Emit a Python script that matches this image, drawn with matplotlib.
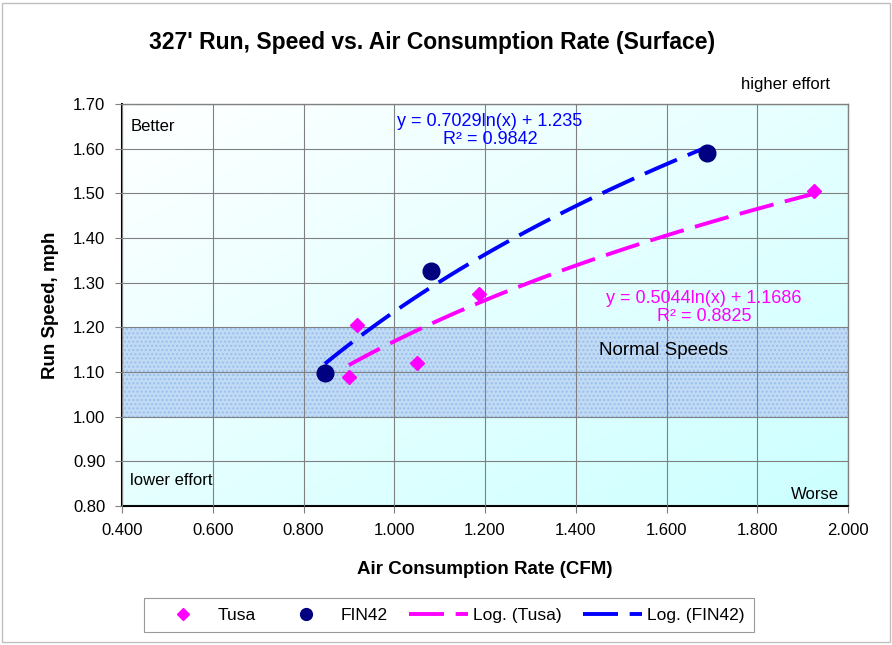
import numpy as np
import matplotlib.pyplot as plt
from matplotlib.patches import Rectangle
from matplotlib.lines import Line2D

plt.rcParams['font.family'] = ['Liberation Sans', 'DejaVu Sans']

# Data
tusa_x = [0.900, 0.918, 1.050, 1.187, 1.925]
tusa_y = [1.089, 1.205, 1.120, 1.275, 1.505]
fin_x = [0.847, 1.081, 1.689]
fin_y = [1.098, 1.326, 1.590]

# Logarithmic trendline coefficients (as shown on chart)
tusa_a, tusa_b, tusa_r2 = 0.5044, 1.1686, 0.8825
fin_a, fin_b, fin_r2 = 0.7029, 1.235, 0.9842

x_ticks = [0.4, 0.6, 0.8, 1.0, 1.2, 1.4, 1.6, 1.8, 2.0]
y_ticks = [0.8, 0.9, 1.0, 1.1, 1.2, 1.3, 1.4, 1.5, 1.6, 1.7]

fig = plt.figure(figsize=(8.92, 6.45), dpi=100)
ax = fig.add_axes([0.1368, 0.2155, 0.8139, 0.6233])

# gradient background: white top-left -> cyan bottom-right
n = 200
gx, gy = np.meshgrid(np.linspace(0, 1, n), np.linspace(0, 1, n))
t = np.clip((gx + gy) / 2, 0, 1)
img = np.zeros((n, n, 3))
img[..., 0] = 1 - 0.2 * t
img[..., 1] = 1.0
img[..., 2] = 1.0
ax.imshow(img, extent=[0.4, 2.0, 0.8, 1.7], aspect='auto', origin='upper', zorder=0)

# normal speeds band
ax.add_patch(Rectangle((0.4, 1.0), 1.6, 0.2, facecolor='#c2dbf5', edgecolor='#98bfee',
                       hatch='....', lw=0, zorder=1))

ax.set_xlim(0.4, 2.0)
ax.set_ylim(0.8, 1.7)
ax.set_xticks(x_ticks)
ax.set_yticks(y_ticks)
ax.set_xticklabels(['%.3f' % v for v in x_ticks], fontsize=12)
ax.set_yticklabels(['%.2f' % v for v in y_ticks], fontsize=12)
ax.grid(True, color='#808080', lw=0.8, zorder=2)
ax.set_axisbelow(False)
ax.tick_params(direction='out', length=5, color='#808080', pad=7)
for s in ['left', 'bottom']:
    ax.spines[s].set_color('black')
    ax.spines[s].set_linewidth(1.5)
for s in ['top', 'right']:
    ax.spines[s].set_color('#808080')
    ax.spines[s].set_linewidth(1.0)

# trendlines
xt = np.linspace(min(tusa_x), max(tusa_x), 100)
xf = np.linspace(min(fin_x), max(fin_x), 100)
ax.plot(xt, tusa_a * np.log(xt) + tusa_b, color='#ff00ff', lw=2.8,
        dashes=(9, 3), zorder=4)
ax.plot(xf, fin_a * np.log(xf) + fin_b, color='#0000ff', lw=2.8,
        dashes=(9, 3), zorder=4)

ax.plot(tusa_x, tusa_y, 'D', color='#ff00ff', ms=7.5, ls='none', zorder=5)
ax.plot(fin_x, fin_y, 'o', color='#000080', ms=12, ls='none', zorder=5)

# annotations
ax.text(0.418, 1.65, 'Better', fontsize=12, va='center', zorder=6)
ax.text(0.418, 0.858, 'lower effort', fontsize=12, va='center', zorder=6)
ax.text(1.98, 0.826, 'Worse', fontsize=12, ha='right', va='center', zorder=6)
ax.text(1.594, 1.147, 'Normal Speeds', fontsize=13.5, ha='center', va='center', zorder=6)
ax.text(1.211, 1.641, 'y = %.4fln(x) + %.3f\nR² = %.4f' % (fin_a, fin_b, fin_r2),
        color='#0000ff', fontsize=13, ha='center', va='center', linespacing=1.05, zorder=6)
ax.text(1.683, 1.245, 'y = %.4fln(x) + %.4f\nR² = %.4f' % (tusa_a, tusa_b, tusa_r2),
        color='#ff00ff', fontsize=13, ha='center', va='center', linespacing=1.05, zorder=6)
fig.text(830 / 892, 1 - 85 / 645, 'higher effort', fontsize=12, ha='right', va='center')

ax.set_xlabel('Air Consumption Rate (CFM)', fontsize=13.5, fontweight='bold', labelpad=17)
ax.set_ylabel('Run Speed, mph', fontsize=13.5, fontweight='bold', labelpad=10)
fig.text(432 / 892, 1 - 42 / 645, "327' Run, Speed vs. Air Consumption Rate (Surface)",
         fontsize=16.5, fontweight='bold', ha='center', va='center')

handles = [Line2D([], [], marker='D', color='#ff00ff', ms=6, ls='none'),
           Line2D([], [], marker='o', color='#000080', ms=8.5, ls='none'),
           Line2D([], [], color='#ff00ff', lw=2.8, dashes=(9, 3)),
           Line2D([], [], color='#0000ff', lw=2.8, dashes=(9, 3))]
leg = fig.legend(handles, ['Tusa', 'FIN42', 'Log. (Tusa)', 'Log. (FIN42)'],
                 loc='center', bbox_to_anchor=(449 / 892, 1 - 615 / 645), ncol=4,
                 fontsize=12.5, frameon=True, fancybox=False, edgecolor='#808080',
                 handlelength=3.4, handletextpad=0.3, columnspacing=1.2, borderpad=0.55)
leg.get_frame().set_linewidth(0.8)

fig.patches.append(Rectangle((0.002, 0.005), 0.996, 0.99, transform=fig.transFigure,
                             fill=False, edgecolor='#c0c0c0', lw=1))

fig.savefig('out.png', dpi=100)
